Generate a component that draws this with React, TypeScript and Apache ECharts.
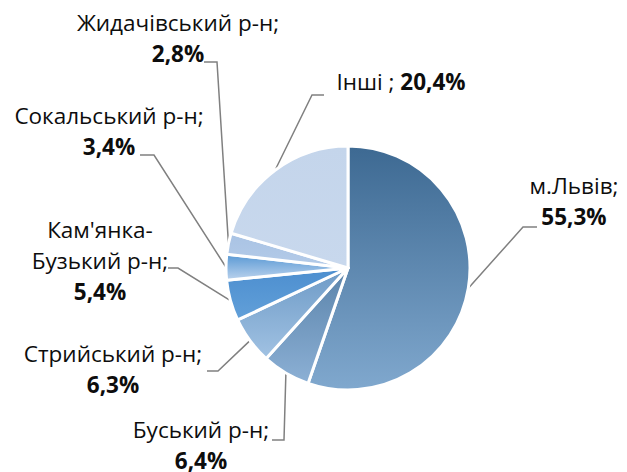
import React, { useEffect, useRef } from "react";
import * as echarts from "echarts";

const categories = [
  "м.Львів",
  "Буський р-н",
  "Стрийський р-н",
  "Кам'янка-\nБузький р-н",
  "Сокальський р-н",
  "Жидачівський р-н",
  "Інші ",
];
const values = [55.3, 6.4, 6.3, 5.4, 3.4, 2.8, 20.4];
const valueLabels = ["55,3%", "6,4%", "6,3%", "5,4%", "3,4%", "2,8%", "20,4%"];

// styling / layout (not data)
const gradients: [string, string][] = [
  ["#3d6992", "#80a8ce"],
  ["#5a83aa", "#8cb0d5"],
  ["#6d9ac6", "#a1c2e3"],
  ["#4c8ecf", "#62a0d9"],
  ["#5898d4", "#bcd3ed"],
  ["#a9c3e4", "#b4cbe8"],
  ["#c4d5eb", "#c8d8ed"],
];
// centre of each label block
const labelPos: [number, number][] = [
  [574, 201],
  [201, 445],
  [113, 369],
  [100, 260],
  [109, 131],
  [178, 38],
  [401, 81],
];
// leader line: [end x, end y, elbow x]
const leader: [number, number, number][] = [
  [537, 227, 523],
  [272, 440, 284],
  [207, 371, 218],
  [168, 268, 178],
  [140, 155, 154],
  [204, 62, 217],
  [324, 95, 312],
];

export default function App() {
  const ref = useRef<HTMLDivElement>(null);
  useEffect(() => {
    document.body.style.margin = "0";
    const chart = echarts.init(ref.current!, undefined, { renderer: "svg" });
    const data = categories.map((c, i) => ({
      name: c,
      value: values[i],
      itemStyle: {
        color: new echarts.graphic.LinearGradient(0, 0, 0, 1, [
          { offset: 0, color: gradients[i][0] },
          { offset: 1, color: gradients[i][1] },
        ]),
      },
      label: {
        formatter:
          i === 6
            ? `{n|${c}; }{v|${valueLabels[i]}}`
            : `{n|${c};}\n{v|${valueLabels[i]}}`,
      },
    }));
    chart.setOption({
      animation: false,
      backgroundColor: "#ffffff",
      series: [
        {
          type: "pie",
          center: [348, 268],
          radius: 122,
          startAngle: 90,
          clockwise: true,
          avoidLabelOverlap: false,
          itemStyle: { borderColor: "#ffffff", borderWidth: 3 },
          label: {
            show: true,
            position: "outside",
            color: "#0d0d0d",
            align: "center",
            rich: {
              n: { fontFamily: "Open Sans", fontSize: 22.5, lineHeight: 31, color: "#0d0d0d", align: "center" },
              v: { fontFamily: "Open Sans", fontSize: 22.5, fontWeight: "bold", lineHeight: 31, color: "#0d0d0d", align: "center" },
            },
          },
          labelLine: {
            show: true,
            length: 20,
            length2: 10,
            lineStyle: { color: "#808080", width: 1.5 },
          },
          labelLayout: (params: any) => {
            const i = params.dataIndex;
            const p = labelPos[i];
            const l = leader[i];
            const a = params.labelLinePoints ? params.labelLinePoints[0] : [l[2], l[1]];
            return {
              x: p[0],
              y: p[1],
              align: "center",
              verticalAlign: "middle",
              labelLinePoints: [a, [l[2], l[1]], [l[0], l[1]]],
            };
          },
          data,
        },
      ],
    });
    return () => chart.dispose();
  }, []);
  return <div ref={ref} style={{ width: 627, height: 472 }} />;
}
